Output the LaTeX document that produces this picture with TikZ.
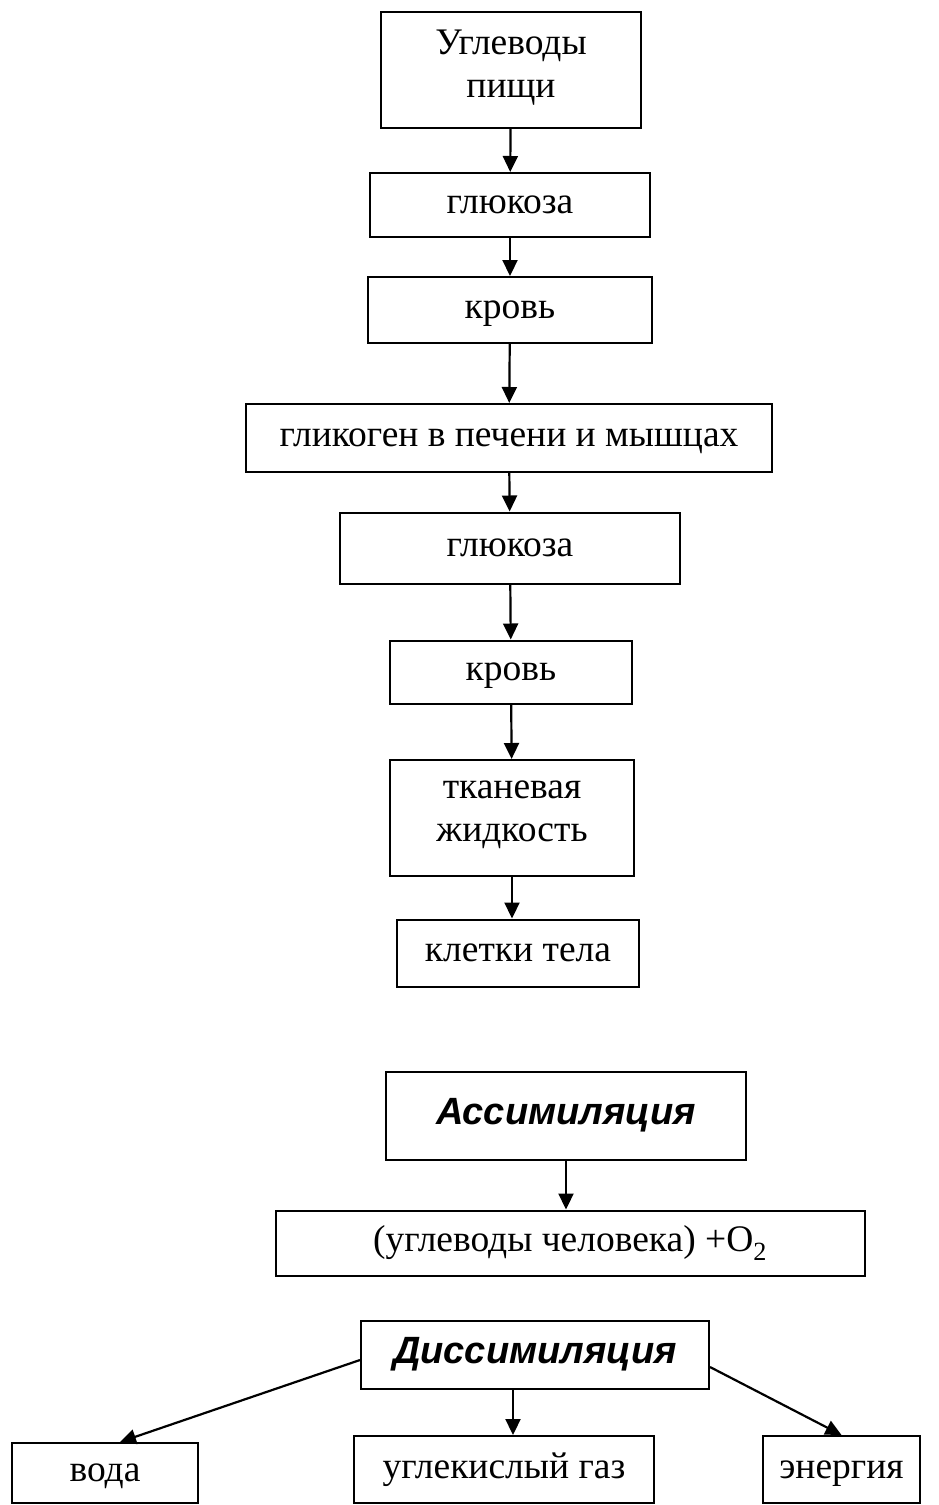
\documentclass[tikz,border=0pt]{standalone}
\usepackage{fontspec}
\setmainfont{Liberation Serif}
\newfontfamily\headfont{Liberation Sans}
\usetikzlibrary{arrows.meta}

\begin{document}
\begin{tikzpicture}[x=1pt,y=-1pt,
  box/.style={draw,line width=2pt,inner sep=0pt,align=center,
    font=\fontsize{37.5}{43}\selectfont,
    execute at begin node=\strut,execute at end node=\strut},
  head/.style={box,font=\headfont\bfseries\itshape\fontsize{38}{43}\selectfont},
  arr/.style={line width=2.2pt,-{Triangle[length=16pt,width=15pt]}}]
  \useasboundingbox (0,0) rectangle (938,1505);

  % path of the carbohydrates
  \node[box,minimum width=260pt,minimum height=116pt] (food)   at (511,70)  {Углеводы\\пищи};
  \node[box,minimum width=280pt,minimum height=64pt]  (glu)    at (510,205) {глюкоза};
  \node[box,minimum width=284pt,minimum height=66pt]  (blood)  at (510,310) {кровь};
  \node[box,minimum width=526pt,minimum height=68pt]  (glyc)   at (509,438) {гликоген в печени и мышцах};
  \node[box,minimum width=340pt,minimum height=71pt]  (gluB)   at (510,548) {глюкоза};
  \node[box,minimum width=242pt,minimum height=63pt]  (bloodB) at (511,672) {кровь};
  \node[box,minimum width=244pt,minimum height=116pt] (tissue) at (512,818) {тканевая\\жидкость};
  \node[box,minimum width=242pt,minimum height=67pt]  (cells)  at (518,953) {клетки тела};

  % exchange
  \node[head,minimum width=360pt,minimum height=88pt] (assim)  at (566,1116) {Ассимиляция};
  \node[box,minimum width=589pt,minimum height=65pt]  (hcarb)  at (570,1243) {(углеводы человека) +O\textsubscript{2}};
  \node[head,minimum width=348pt,minimum height=68pt] (dissim) at (535,1355) {Диссимиляция};
  \node[box,minimum width=186pt,minimum height=60pt]  (water)  at (105,1473)   {вода};
  \node[box,minimum width=300pt,minimum height=67pt]  (gas)    at (504,1469.5) {углекислый газ};
  \node[box,minimum width=157pt,minimum height=67pt]  (energy) at (841.5,1469.5) {энергия};

  \path[arr]
    (food) edge (glu)
    (glu) edge (blood)
    (blood) edge (glyc)
    (glyc) edge (gluB)
    (gluB) edge (bloodB)
    (bloodB) edge (tissue)
    (tissue.south) edge (tissue.south |- cells.north)
    (assim.south) edge (assim.south |- hcarb.north)
    ([yshift=-5pt]dissim.west) edge ([xshift=15pt]water.north)
    ([xshift=-22pt]dissim.south) edge ([xshift=9pt]gas.north)
    ([yshift=-12pt]dissim.east) edge (energy.north);
\end{tikzpicture}
\end{document}
